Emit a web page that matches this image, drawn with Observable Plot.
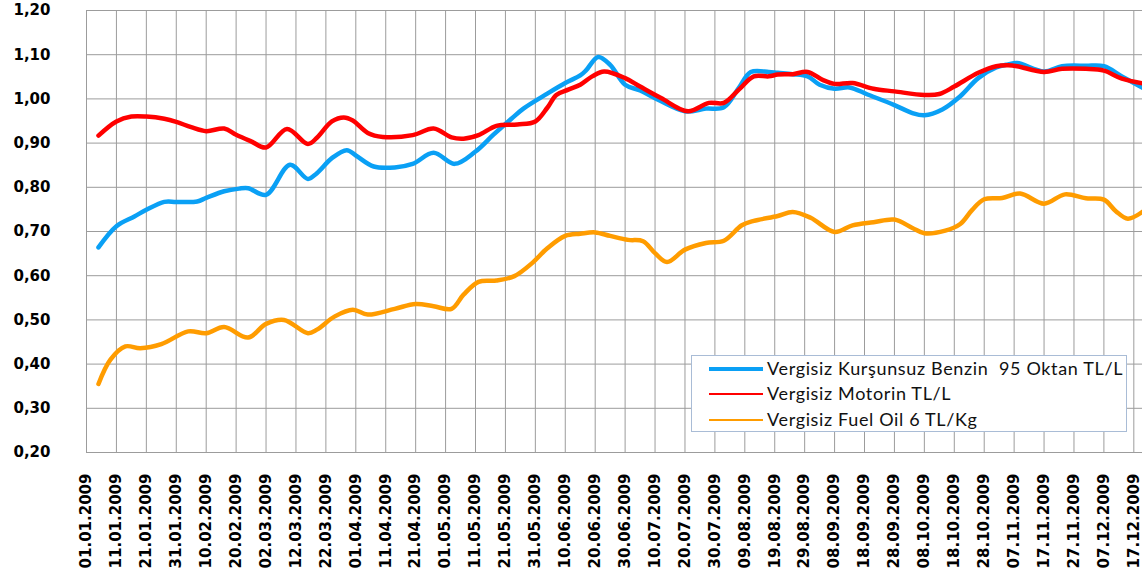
<!DOCTYPE html>
<html><head><meta charset="utf-8">
<script src="https://cdn.jsdelivr.net/npm/d3@7"></script>
<script src="https://cdn.jsdelivr.net/npm/@observablehq/plot@0.6"></script>
<style>
body{margin:0;background:#fff;}
#wrap{position:relative;width:1142px;height:583px;overflow:hidden;background:#fff;}
#legend{position:absolute;left:691px;top:355px;width:436px;height:77px;box-sizing:border-box;border:1px solid #a9bcd6;background:#fff;font-family:Lato,"Open Sans",sans-serif;font-size:18px;letter-spacing:0.65px;color:#111;}
.row{position:absolute;left:0;width:100%;height:0;}
.sw{position:absolute;left:17px;width:54px;}
.lb{position:absolute;left:75px;white-space:pre;line-height:20px;top:-11px;}
</style></head>
<body>
<div id="wrap"><div id="chart"></div><div id="legend"></div></div>
<script>
// ---- data ----
const seriesNames = ["Vergisiz Kurşunsuz Benzin  95 Oktan TL/L", "Vergisiz Motorin TL/L", "Vergisiz Fuel Oil 6 TL/Kg"];
const seriesColors = ["#0aa0f5", "#ff0000", "#ff9c00"];

const tickLabels = ["01.01.2009","11.01.2009","21.01.2009","31.01.2009","10.02.2009","20.02.2009","02.03.2009","12.03.2009","22.03.2009","01.04.2009","11.04.2009","21.04.2009","01.05.2009","11.05.2009","21.05.2009","31.05.2009","10.06.2009","20.06.2009","30.06.2009","10.07.2009","20.07.2009","30.07.2009","09.08.2009","19.08.2009","29.08.2009","08.09.2009","18.09.2009","28.09.2009","08.10.2009","18.10.2009","28.10.2009","07.11.2009","17.11.2009","27.11.2009","07.12.2009","17.12.2009"];
const yTicks = [0.2,0.3,0.4,0.5,0.6,0.7,0.8,0.9,1.0,1.1,1.2];

const benzinDates = ["2009-01-05","2009-01-11","2009-01-17","2009-01-21","2009-01-27","2009-01-31","2009-02-07","2009-02-10","2009-02-16","2009-02-21","2009-02-24","2009-03-02","2009-03-10","2009-03-16","2009-03-19","2009-03-24","2009-03-29","2009-04-01","2009-04-07","2009-04-14","2009-04-20","2009-04-27","2009-05-04","2009-05-11","2009-05-17","2009-05-23","2009-05-27","2009-06-04","2009-06-10","2009-06-15","2009-06-17","2009-06-21","2009-06-25","2009-06-30","2009-07-05","2009-07-11","2009-07-20","2009-07-27","2009-08-02","2009-08-07","2009-08-11","2009-08-17","2009-08-20","2009-08-25","2009-08-30","2009-09-03","2009-09-08","2009-09-13","2009-09-19","2009-09-28","2009-10-04","2009-10-08","2009-10-14","2009-10-20","2009-10-26","2009-11-01","2009-11-05","2009-11-08","2009-11-17","2009-11-23","2009-12-01","2009-12-07","2009-12-13","2009-12-21"];
const benzinValues = [0.664,0.712,0.734,0.749,0.767,0.767,0.768,0.776,0.791,0.797,0.798,0.783,0.851,0.819,0.832,0.866,0.884,0.872,0.847,0.845,0.853,0.878,0.853,0.881,0.919,0.955,0.978,1.012,1.036,1.053,1.065,1.095,1.077,1.032,1.019,0.998,0.972,0.978,0.981,1.025,1.061,1.061,1.059,1.056,1.051,1.032,1.023,1.026,1.010,0.986,0.968,0.963,0.976,1.006,1.047,1.071,1.078,1.081,1.062,1.074,1.075,1.074,1.051,1.021];

const motorinDates = ["2009-01-05","2009-01-11","2009-01-16","2009-01-21","2009-01-27","2009-01-31","2009-02-05","2009-02-10","2009-02-16","2009-02-20","2009-02-25","2009-03-02","2009-03-09","2009-03-16","2009-03-19","2009-03-24","2009-03-28","2009-03-31","2009-04-05","2009-04-10","2009-04-20","2009-04-27","2009-05-03","2009-05-07","2009-05-12","2009-05-18","2009-05-25","2009-05-31","2009-06-04","2009-06-07","2009-06-11","2009-06-15","2009-06-19","2009-06-23","2009-06-30","2009-07-05","2009-07-12","2009-07-21","2009-07-28","2009-08-02","2009-08-07","2009-08-12","2009-08-17","2009-08-20","2009-08-25","2009-08-30","2009-09-04","2009-09-08","2009-09-14","2009-09-21","2009-09-28","2009-10-08","2009-10-13","2009-10-18","2009-10-26","2009-11-01","2009-11-05","2009-11-08","2009-11-17","2009-11-23","2009-12-01","2009-12-07","2009-12-13","2009-12-21"];
const motorinValues = [0.917,0.949,0.960,0.960,0.955,0.948,0.936,0.927,0.933,0.919,0.904,0.890,0.932,0.898,0.912,0.949,0.958,0.951,0.923,0.914,0.918,0.933,0.913,0.910,0.918,0.939,0.942,0.949,0.980,1.009,1.021,1.032,1.051,1.062,1.047,1.028,1.002,0.972,0.991,0.991,1.021,1.051,1.051,1.055,1.056,1.061,1.043,1.034,1.036,1.023,1.017,1.009,1.011,1.028,1.059,1.074,1.076,1.074,1.061,1.068,1.068,1.064,1.046,1.034];

const fuelDates = ["2009-01-05","2009-01-09","2009-01-14","2009-01-19","2009-01-26","2009-02-04","2009-02-10","2009-02-16","2009-02-24","2009-03-02","2009-03-08","2009-03-16","2009-03-19","2009-03-25","2009-03-31","2009-04-05","2009-04-14","2009-04-21","2009-04-27","2009-05-03","2009-05-07","2009-05-12","2009-05-18","2009-05-24","2009-05-30","2009-06-04","2009-06-10","2009-06-15","2009-06-20","2009-06-25","2009-07-01","2009-07-06","2009-07-10","2009-07-14","2009-07-20","2009-07-27","2009-08-02","2009-08-08","2009-08-12","2009-08-20","2009-08-25","2009-08-31","2009-09-08","2009-09-14","2009-09-21","2009-09-28","2009-10-04","2009-10-08","2009-10-15","2009-10-20","2009-10-24","2009-10-28","2009-11-03","2009-11-09","2009-11-17","2009-11-24","2009-12-01","2009-12-07","2009-12-11","2009-12-15","2009-12-21"];
const fuelValues = [0.355,0.410,0.440,0.436,0.445,0.474,0.470,0.484,0.460,0.491,0.500,0.470,0.478,0.508,0.523,0.512,0.525,0.536,0.531,0.525,0.557,0.586,0.589,0.599,0.629,0.662,0.690,0.695,0.698,0.690,0.681,0.678,0.651,0.631,0.659,0.674,0.679,0.714,0.724,0.735,0.744,0.731,0.699,0.714,0.721,0.727,0.708,0.696,0.702,0.717,0.749,0.773,0.776,0.786,0.763,0.784,0.775,0.772,0.746,0.729,0.750];

// ---- build tables ----
const parseTick = s => { const [d, m, y] = s.split("."); return new Date(Date.UTC(+y, +m - 1, +d)); };
const ticks = tickLabels.map(l => ({date: parseTick(l), label: l}));
const toRows = (dates, values) => dates.map((d, i) => ({date: new Date(d), value: values[i]}));
const benzin = toRows(benzinDates, benzinValues);
const motorin = toRows(motorinDates, motorinValues);
const fuel = toRows(fuelDates, fuelValues);

const x0 = Date.UTC(2009, 0, 1);
const chart = Plot.plot({
  width: 1142, height: 583,
  marginTop: 10, marginBottom: 131, marginLeft: 86, marginRight: 0,
  x: {type: "utc", domain: [new Date(x0), new Date(x0 + 352.9 * 864e5)], axis: null},
  y: {domain: [0.2, 1.2], axis: null},
  style: {fontFamily: "DejaVu Sans", fontWeight: "bold", fontSize: "15px", color: "#000", background: "#fff"},
  marks: [
    Plot.gridY(yTicks, {stroke: "#9c9c9c", strokeOpacity: 1}),
    Plot.gridX(ticks.map(t => t.date), {stroke: "#9c9c9c", strokeOpacity: 1}),
    Plot.line(benzin, {x: "date", y: "value", stroke: seriesColors[0], strokeWidth: 4.5, curve: "catmull-rom"}),
    Plot.line(motorin, {x: "date", y: "value", stroke: seriesColors[1], strokeWidth: 4.5, curve: "catmull-rom"}),
    Plot.line(fuel, {x: "date", y: "value", stroke: seriesColors[2], strokeWidth: 4.5, curve: "catmull-rom"}),
    Plot.axisY(yTicks, {tickSize: 0, tickPadding: 36, label: null, tickFormat: d => d.toFixed(2).replace(".", ","), fontWeight: "bold", fontSize: 15, fill: "#000"}),
    Plot.text(ticks, {x: "date", frameAnchor: "bottom", dy: 21, rotate: -90, textAnchor: "end", lineAnchor: "middle", text: "label", fontWeight: "bold", fontSize: 15, fill: "#000"})
  ]
});
document.getElementById("chart").appendChild(chart);

// ---- legend ----
const legend = document.getElementById("legend");
const rowTops = [12.7, 38.3, 64];
const swWidths = [4, 2.5, 2.5];
seriesNames.forEach((name, i) => {
  const row = document.createElement("div");
  row.className = "row";
  row.style.top = rowTops[i] + "px";
  const sw = document.createElement("div");
  sw.className = "sw";
  sw.style.borderTop = swWidths[i] + "px solid " + seriesColors[i];
  sw.style.top = (-swWidths[i] / 2) + "px";
  const lb = document.createElement("div");
  lb.className = "lb";
  lb.textContent = name;
  row.appendChild(sw); row.appendChild(lb);
  legend.appendChild(row);
});
</script>
</body></html>
